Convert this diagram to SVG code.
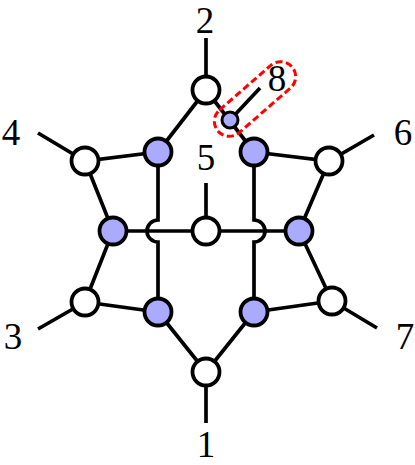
<svg xmlns="http://www.w3.org/2000/svg" width="415" height="465" viewBox="0 0 415 465">
<style>
.e{stroke:#000;stroke-width:3.7;fill:none;stroke-linecap:butt}
.w{fill:#fff;stroke:#000;stroke-width:3.8}
.b{fill:#aaaaff;stroke:#000;stroke-width:3.8}
.s{fill:#aaaaff;stroke:#000;stroke-width:3}
.t{font-family:"Liberation Serif","DejaVu Serif",serif;font-size:37px;text-anchor:middle;fill:#000}
.r{fill:none;stroke:#ff0000;stroke-width:3;stroke-dasharray:7,3.5}
</style>
<rect width="415" height="465" fill="#fff"/>
<g id="connectors">
<path class="e" d="M206,90V38"/>
<path class="e" d="M206,90L158,152"/>
<path class="e" d="M206,90L254,152"/>
<path class="e" d="M230,120L260,88"/>
<path class="e" d="M158,152L85,161L38,133"/>
<path class="e" d="M85,161L113,231L85,302L38,329"/>
<path class="e" d="M85,302L158,312"/>
<path class="e" d="M158,152V220A11,11 0 0 0 158,242V312"/>
<path class="e" d="M254,152V220A11,11 0 0 1 254,242V312"/>
<path class="e" d="M113,231H299"/>
<path class="e" d="M206,231V183"/>
<path class="e" d="M254,152L329,161L374,135"/>
<path class="e" d="M329,161L299,231L332,301L377,328"/>
<path class="e" d="M332,301L254,312"/>
<path class="e" d="M158,312L206,372L254,312"/>
<path class="e" d="M206,372V423"/>
</g>
<g id="n2"><circle class="w" cx="206" cy="90" r="13.5"/></g>
<g id="n8"><circle class="s" cx="230" cy="120" r="8"/></g>
<g id="ul"><circle class="b" cx="158" cy="152" r="13.5"/></g>
<g id="ur"><circle class="b" cx="254" cy="152" r="13.5"/></g>
<g id="wul"><circle class="w" cx="85" cy="161" r="13.5"/></g>
<g id="wur"><circle class="w" cx="329" cy="161" r="13.5"/></g>
<g id="ml"><circle class="b" cx="113" cy="231" r="13.5"/></g>
<g id="mr"><circle class="b" cx="299" cy="231" r="13.5"/></g>
<g id="n5"><circle class="w" cx="206" cy="231" r="13.5"/></g>
<g id="wll"><circle class="w" cx="85" cy="302" r="13.5"/></g>
<g id="wlr"><circle class="w" cx="332" cy="301" r="13.5"/></g>
<g id="ll"><circle class="b" cx="158" cy="312" r="13.5"/></g>
<g id="lr"><circle class="b" cx="254" cy="312" r="13.5"/></g>
<g id="n1"><circle class="w" cx="206" cy="372" r="13.5"/></g>
<g id="highlight"><rect class="r" x="-49" y="-15" width="98" height="30" rx="15" transform="translate(255,99) rotate(-41)"/></g>
<g id="labels">
<text class="t" x="205" y="33">2</text>
<text class="t" x="277" y="91">8</text>
<text class="t" x="206" y="170">5</text>
<text class="t" x="11" y="145">4</text>
<text class="t" x="403" y="145">6</text>
<text class="t" x="13" y="349">3</text>
<text class="t" x="405" y="349">7</text>
<text class="t" x="206" y="457">1</text>
</g>
</svg>
